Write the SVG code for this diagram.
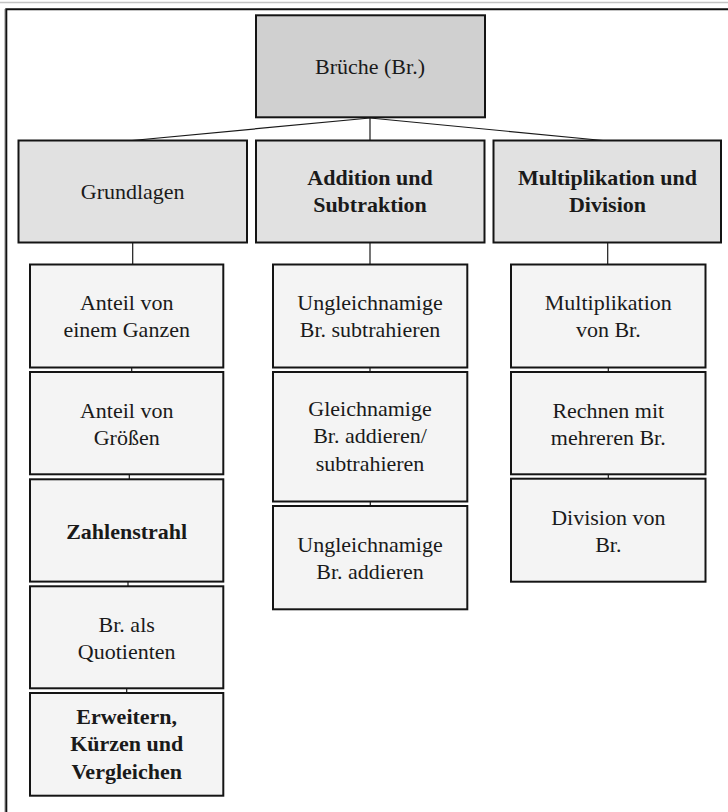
<svg xmlns="http://www.w3.org/2000/svg" width="728" height="812" viewBox="0 0 728 812">
  <style>
    .box { stroke: #141414; stroke-width: 2; }
    .root { fill: #d0d0d0; }
    .head { fill: #e1e1e1; }
    .leaf { fill: #f4f4f4; }
    .lbl { font-family: "Liberation Serif", "Times New Roman", serif; font-size: 22px; fill: #1a1a1a; text-anchor: middle; }
    .b { font-weight: bold; }
    .conn line { stroke: #1a1a1a; stroke-width: 1.2; }
  </style>

  <!-- page frame -->
  <rect x="0" y="0" width="728" height="812" fill="#ffffff"/>
  <line x1="0" y1="2.5" x2="728" y2="2.5" stroke="#c4c4c4" stroke-width="1.5"/>
  <line x1="4.5" y1="9" x2="4.5" y2="812" stroke="#c4c4c4" stroke-width="1"/>
  <path d="M6.3 812 V9.3 H728" fill="none" stroke="#111" stroke-width="2"/>

  <!-- connectors -->
  <g id="connectors" class="conn">
    <line x1="370" y1="118" x2="132" y2="140.5"/>
    <line x1="370" y1="118" x2="370" y2="140.5"/>
    <line x1="370" y1="118" x2="603" y2="140.5"/>
    <line x1="132.7" y1="243" x2="132.7" y2="264.5"/>
    <line x1="370" y1="243" x2="370" y2="264.5"/>
    <line x1="607.7" y1="243" x2="607.7" y2="264.5"/>
    <line x1="131.7" y1="367" x2="131.7" y2="372"/>
    <line x1="129.3" y1="474" x2="129.3" y2="479"/>
    <line x1="128" y1="581" x2="128" y2="586"/>
    <line x1="126.7" y1="688" x2="126.7" y2="693"/>
    <line x1="370" y1="367" x2="370" y2="372"/>
    <line x1="370.3" y1="501" x2="370.3" y2="506"/>
    <line x1="608.3" y1="367" x2="608.3" y2="372"/>
    <line x1="608.3" y1="474" x2="608.3" y2="479"/>
  </g>

  <!-- root -->
  <g id="brueche">
    <rect class="box root" x="256" y="15.3" width="229" height="102"/>
    <text class="lbl" x="370" y="74">Brüche (Br.)</text>
  </g>

  <!-- column headers -->
  <g id="grundlagen">
    <rect class="box head" x="18.5" y="140.5" width="228.5" height="102"/>
    <text class="lbl" x="132.7" y="198.5">Grundlagen</text>
  </g>
  <g id="addition-subtraktion">
    <rect class="box head" x="256" y="140.5" width="228.5" height="102"/>
    <text class="lbl b" x="370" y="185">Addition und</text>
    <text class="lbl b" x="370" y="212">Subtraktion</text>
  </g>
  <g id="multiplikation-division">
    <rect class="box head" x="493.5" y="140.5" width="227.5" height="102"/>
    <text class="lbl b" x="607.5" y="185">Multiplikation und</text>
    <text class="lbl b" x="607.5" y="212">Division</text>
  </g>

  <!-- Grundlagen column -->
  <g id="anteil-ganzes">
    <rect class="box leaf" x="30" y="264.5" width="193.3" height="103"/>
    <text class="lbl" x="126.7" y="310">Anteil von</text>
    <text class="lbl" x="126.7" y="337.3">einem Ganzen</text>
  </g>
  <g id="anteil-groessen">
    <rect class="box leaf" x="30" y="372" width="193.3" height="102.3"/>
    <text class="lbl" x="126.7" y="417.5">Anteil von</text>
    <text class="lbl" x="126.7" y="444.8">Größen</text>
  </g>
  <g id="zahlenstrahl">
    <rect class="box leaf" x="30" y="479.3" width="193.3" height="102.3"/>
    <text class="lbl b" x="126.7" y="538.5">Zahlenstrahl</text>
  </g>
  <g id="quotienten">
    <rect class="box leaf" x="30" y="586.3" width="193.3" height="102"/>
    <text class="lbl" x="126.7" y="631.5">Br. als</text>
    <text class="lbl" x="126.7" y="658.8">Quotienten</text>
  </g>
  <g id="erweitern">
    <rect class="box leaf" x="30" y="693" width="193.3" height="102.7"/>
    <text class="lbl b" x="126.7" y="723.5">Erweitern,</text>
    <text class="lbl b" x="126.7" y="751">Kürzen und</text>
    <text class="lbl b" x="126.7" y="778.5">Vergleichen</text>
  </g>

  <!-- Addition / Subtraktion column -->
  <g id="ungleich-subtrahieren">
    <rect class="box leaf" x="273" y="264.5" width="194.3" height="103"/>
    <text class="lbl" x="370" y="310">Ungleichnamige</text>
    <text class="lbl" x="370" y="337.3">Br. subtrahieren</text>
  </g>
  <g id="gleich-addieren">
    <rect class="box leaf" x="273" y="372" width="194.3" height="129.5"/>
    <text class="lbl" x="370" y="416">Gleichnamige</text>
    <text class="lbl" x="370" y="443.3">Br. addieren/</text>
    <text class="lbl" x="370" y="470.6">subtrahieren</text>
  </g>
  <g id="ungleich-addieren">
    <rect class="box leaf" x="273" y="506" width="194.3" height="103.3"/>
    <text class="lbl" x="370" y="551.5">Ungleichnamige</text>
    <text class="lbl" x="370" y="578.8">Br. addieren</text>
  </g>

  <!-- Multiplikation / Division column -->
  <g id="multiplikation">
    <rect class="box leaf" x="511" y="264.5" width="194.5" height="103"/>
    <text class="lbl" x="608.3" y="310">Multiplikation</text>
    <text class="lbl" x="608.3" y="337.3">von Br.</text>
  </g>
  <g id="mehrere">
    <rect class="box leaf" x="511" y="372" width="194.5" height="102.3"/>
    <text class="lbl" x="608.3" y="417.5">Rechnen mit</text>
    <text class="lbl" x="608.3" y="444.8">mehreren Br.</text>
  </g>
  <g id="division">
    <rect class="box leaf" x="511" y="478.7" width="194.5" height="103"/>
    <text class="lbl" x="608.3" y="524.5">Division von</text>
    <text class="lbl" x="608.3" y="551.8">Br.</text>
  </g>
</svg>
